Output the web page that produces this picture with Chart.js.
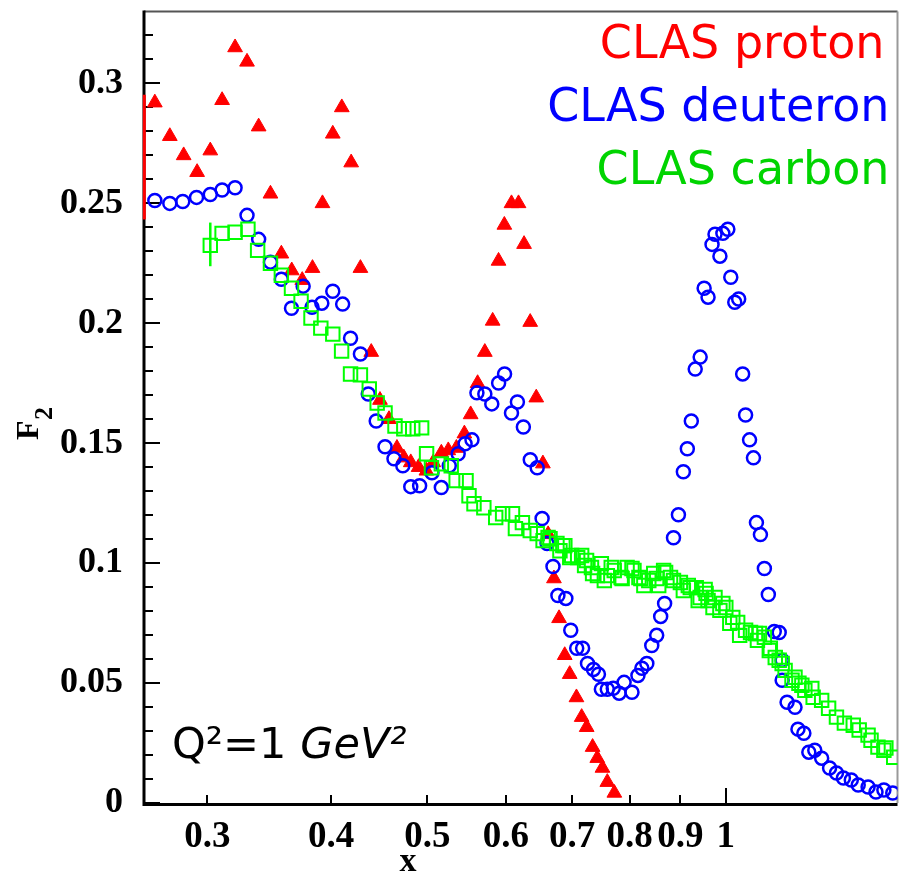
<!DOCTYPE html>
<html><head><meta charset="UTF-8">
<title>CLAS F2 at Q2 = 1 GeV2</title>
<script src="https://cdn.jsdelivr.net/npm/chart.js"></script>
<style>
  body{margin:0;background:#fff}
  canvas{display:block}
</style>
</head><body>
<canvas id="chart" width="909" height="892"></canvas>
<script>
// values
const protonX = [0.2656,0.2750,0.2840,0.2930,0.3021,0.3105,0.3200,0.3290,0.3380,0.3474,0.3563,0.3650,0.3740,0.3830,0.3920,0.4015,0.4100,0.4190,0.4281,0.4390,0.4480,0.4575,0.4660,0.4735,0.4812,0.4900,0.4990,0.5070,0.5166,0.5250,0.5350,0.5450,0.5530,0.5620,0.5715,0.5820,0.5900,0.5980,0.6080,0.6180,0.6260,0.6350,0.6440,0.6540,0.6620,0.6710,0.6790,0.6880,0.6960,0.7070,0.7156,0.7240,0.7340,0.7420,0.7510,0.7595,0.7720];
const protonF2 = [0.292,0.278,0.270,0.263,0.272,0.293,0.315,0.309,0.282,0.254,0.229,0.222,0.218,0.223,0.250,0.279,0.290,0.267,0.223,0.188,0.168,0.160,0.148,0.144,0.142,0.140,0.1385,0.142,0.146,0.147,0.148,0.154,0.162,0.175,0.188,0.201,0.226,0.241,0.250,0.250,0.233,0.2005,0.169,0.1415,0.112,0.0936,0.077,0.0616,0.0537,0.044,0.0358,0.0316,0.0233,0.0187,0.0146,0.0087,0.0042];

const deuteronX = [0.2656,0.2750,0.2834,0.2926,0.3021,0.3105,0.3200,0.3290,0.3380,0.3474,0.3563,0.3648,0.3748,0.3826,0.3914,0.4015,0.4108,0.4184,0.4281,0.4360,0.4441,0.4533,0.4628,0.4724,0.4812,0.4912,0.5055,0.5166,0.5262,0.5372,0.5459,0.5547,0.5611,0.5715,0.5808,0.5901,0.5983,0.6080,0.6164,0.6250,0.6351,0.6454,0.6528,0.6604,0.6695,0.6772,0.6898,0.6977,0.7074,0.7172,0.7254,0.7355,0.7440,0.7491,0.7595,0.7701,0.7807,0.7897,0.8043,0.8155,0.8230,0.8325,0.8421,0.8518,0.8597,0.8676,0.8857,0.8959,0.9062,0.9146,0.9231,0.9315,0.9423,0.9510,0.9597,0.9686,0.9753,0.9865,0.9933,1.0048,1.0117,1.0211,1.0304,1.0400,1.0471,1.0568,1.0664,1.0738,1.0838,1.0938,1.1039,1.1191,1.1321,1.1399,1.1399,1.1530,1.1744,1.1825,1.1988,1.2127,1.2296,1.2494,1.2726,1.2931,1.3141,1.3384,1.3601,1.3916,1.4174,1.4436,1.4737];
const deuteronF2 = [0.2512,0.2500,0.2508,0.2525,0.2537,0.2556,0.2565,0.2450,0.2350,0.2255,0.2184,0.2063,0.2155,0.2067,0.2084,0.2134,0.2080,0.1938,0.1872,0.1705,0.1593,0.1485,0.1435,0.1406,0.1319,0.1323,0.1377,0.1315,0.1406,0.1456,0.1498,0.1514,0.1710,0.1705,0.1664,0.1751,0.1789,0.1626,0.1672,0.1568,0.1431,0.1398,0.1186,0.1082,0.0986,0.0865,0.0853,0.0720,0.0645,0.0645,0.0582,0.0557,0.0537,0.0474,0.0474,0.0478,0.0458,0.0503,0.0462,0.0532,0.0562,0.0582,0.0657,0.0699,0.0778,0.0832,0.1106,0.1202,0.1381,0.1477,0.1593,0.1809,0.1859,0.2146,0.2109,0.2329,0.2371,0.2280,0.2375,0.2392,0.2192,0.2088,0.2101,0.1789,0.1618,0.1514,0.1439,0.1169,0.1119,0.0978,0.0869,0.0715,0.0711,0.0595,0.0512,0.0420,0.0399,0.0308,0.0291,0.0212,0.0220,0.0187,0.0146,0.0125,0.0104,0.0096,0.0075,0.0067,0.0046,0.0054,0.0042];

const carbonX = [0.3021,0.3105,0.3200,0.3297,0.3372,0.3474,0.3563,0.3648,0.3730,0.3817,0.3905,0.4015,0.4098,0.4184,0.4281,0.4370,0.4451,0.4533,0.4639,0.4735,0.4834,0.4935,0.4992,0.5049,0.5166,0.5286,0.5347,0.5471,0.5509,0.5573,0.5702,0.5861,0.5956,0.6094,0.6136,0.6236,0.6351,0.6454,0.6543,0.6619,0.6649,0.6757,0.6804,0.6850,0.6882,0.6961,0.6993,0.7090,0.7156,0.7205,0.7238,0.7321,0.7340,0.7423,0.7491,0.7543,0.7595,0.7665,0.7718,0.7843,0.7861,0.7952,0.8043,0.8080,0.8174,0.8211,0.8268,0.8363,0.8460,0.8518,0.8558,0.8656,0.8696,0.8796,0.8857,0.9000,0.9062,0.9167,0.9209,0.9337,0.9380,0.9423,0.9532,0.9553,0.9597,0.9708,0.9753,0.9865,0.9933,1.0001,1.0094,1.0164,1.0280,1.0328,1.0471,1.0592,1.0714,1.0763,1.0813,1.0938,1.1064,1.1090,1.1218,1.1321,1.1399,1.1477,1.1663,1.1744,1.1852,1.1933,1.2016,1.2211,1.2250,1.2494,1.2697,1.2931,1.3171,1.3445,1.3632,1.3916,1.4012,1.4239,1.4436,1.4503,1.4770];
const carbonF2 = [0.2325,0.2375,0.2380,0.2392,0.2304,0.2250,0.2200,0.2146,0.2092,0.2022,0.1980,0.1955,0.1884,0.1789,0.1785,0.1726,0.1668,0.1626,0.1572,0.1560,0.1560,0.1564,0.1456,0.1398,0.1414,0.1406,0.1344,0.1344,0.1281,0.1248,0.1231,0.1190,0.1206,0.1206,0.1144,0.1169,0.1136,0.1123,0.1094,0.1107,0.1102,0.1082,0.1052,0.1073,0.1073,0.1023,0.1032,0.1023,0.1032,0.0990,0.1011,0.0982,0.0957,0.0948,0.0998,0.0928,0.0948,0.0982,0.0969,0.0940,0.0936,0.0982,0.0978,0.0969,0.0940,0.0936,0.0907,0.0928,0.0957,0.0936,0.0907,0.0969,0.0961,0.0940,0.0928,0.0919,0.0886,0.0907,0.0898,0.0898,0.0844,0.0857,0.0890,0.0874,0.0844,0.0815,0.0857,0.0803,0.0832,0.0815,0.0749,0.0774,0.0753,0.0699,0.0720,0.0711,0.0707,0.0678,0.0707,0.0691,0.0636,0.0645,0.0607,0.0595,0.0582,0.0553,0.0512,0.0524,0.0499,0.0491,0.0470,0.0478,0.0441,0.0428,0.0395,0.0358,0.0333,0.0324,0.0304,0.0283,0.0262,0.0233,0.0220,0.0229,0.0191];

// the two visible error bars
const errSeries = [0, 2];
const errX = [0.2592, 0.3021];
const errLo = [0.2433, 0.2238];
const errHi = [0.2953, 0.2420];

const seriesNames = ["CLAS proton", "CLAS deuteron", "CLAS carbon"];
const seriesColors = ["#ff0000", "#0000ff", "#00ff00"];
const labelColors = ["#ff0000", "#0000ff", "#00d400"];

const xTicks = [0.3, 0.4, 0.5, 0.6, 0.7, 0.8, 0.9, 1];
const xTickLabels = ["0.3", "0.4", "0.5", "0.6", "0.7", "0.8", "0.9", "1"];
const yTicks = [0, 0.05, 0.1, 0.15, 0.2, 0.25, 0.3];
const yTickLabels = ["0", "0.05", "0.1", "0.15", "0.2", "0.25", "0.3"];
const yMinorTicks = [0.01,0.02,0.03,0.04,0.06,0.07,0.08,0.09,0.11,0.12,0.13,0.14,0.16,0.17,0.18,0.19,0.21,0.22,0.23,0.24,0.26,0.27,0.28,0.29,0.31,0.32];

const pts = (xs, ys) => xs.map((x, i) => ({x: x, y: ys[i]}));
const serif = "'Liberation Serif', 'Times New Roman', serif";
const sans = "'DejaVu Sans', sans-serif";

// frame, axes and inward ticks
const frame = {
  id: "frame",
  beforeDatasetsDraw(chart) {
    const {ctx, chartArea: a, scales: {x, y}} = chart;
    ctx.save();
    ctx.lineCap = "butt";
    ctx.strokeStyle = "#555"; ctx.lineWidth = 2;
    ctx.beginPath(); ctx.moveTo(a.left, a.top); ctx.lineTo(a.right, a.top); ctx.stroke();
    ctx.strokeStyle = "#999";
    ctx.beginPath(); ctx.moveTo(a.right, a.top); ctx.lineTo(a.right, a.bottom); ctx.stroke();
    ctx.strokeStyle = "#000"; ctx.lineWidth = 3;
    ctx.beginPath(); ctx.moveTo(a.left, a.top - 1); ctx.lineTo(a.left, a.bottom + 1.5); ctx.lineTo(a.right, a.bottom + 1.5); ctx.stroke();
    ctx.lineWidth = 2;
    yTicks.forEach(v => {
      const py = Math.round(y.getPixelForValue(v));
      ctx.beginPath(); ctx.moveTo(a.left, py); ctx.lineTo(a.left + 16, py); ctx.stroke();
    });
    yMinorTicks.forEach(v => {
      const py = Math.round(y.getPixelForValue(v));
      ctx.beginPath(); ctx.moveTo(a.left, py); ctx.lineTo(a.left + 9, py); ctx.stroke();
    });
    xTicks.forEach(v => {
      const px = Math.round(x.getPixelForValue(v));
      ctx.beginPath(); ctx.moveTo(px, a.bottom); ctx.lineTo(px, a.bottom - (v === 1 ? 15 : 8)); ctx.stroke();
    });
    ctx.restore();
  },
  afterDatasetsDraw(chart) {
    const {ctx, scales: {x, y}} = chart;
    ctx.save();
    errX.forEach((v, i) => {
      const px = x.getPixelForValue(v);
      ctx.strokeStyle = seriesColors[errSeries[i]];
      ctx.lineWidth = errSeries[i] === 0 ? 3 : 2.5;
      ctx.beginPath(); ctx.moveTo(px, y.getPixelForValue(errLo[i])); ctx.lineTo(px, y.getPixelForValue(errHi[i])); ctx.stroke();
    });
    ctx.restore();
  },
  afterDraw(chart) {
    const {ctx, chartArea: a} = chart;
    ctx.save();
    // legend as coloured text, top right
    ctx.font = "46px " + sans;
    ctx.textAlign = "right"; ctx.textBaseline = "alphabetic";
    seriesNames.forEach((name, i) => {
      ctx.fillStyle = labelColors[i];
      ctx.fillText(name, a.right - (i === 0 ? 13 : 8), a.top + 46 + i * 63);
    });
    // Q2 note
    ctx.fillStyle = "#000"; ctx.textAlign = "left";
    ctx.font = "43px " + sans;
    let tx = a.left + 28;
    const base = 758;
    ctx.fillText("Q²=1 ", tx, base);
    tx += ctx.measureText("Q²=1 ").width;
    ctx.font = "italic 43px " + sans;
    ctx.fillText("GeV²", tx, base);
    // axis titles
    ctx.font = "bold 34px " + serif;
    ctx.textAlign = "center"; ctx.textBaseline = "middle";
    ctx.fillText("x", 408, 862);
    ctx.translate(38, 428);
    ctx.rotate(-Math.PI / 2);
    ctx.textAlign = "left"; ctx.textBaseline = "alphabetic";
    ctx.font = "bold 32px " + serif;
    ctx.fillText("F", -12, 0);
    ctx.font = "bold 26px " + serif;
    ctx.fillText("2", 8, 14);
    ctx.restore();
  }
};

new Chart(document.getElementById("chart"), {
  type: "scatter",
  data: {
    datasets: [
      {label: seriesNames[0], data: pts(protonX, protonF2), order: 3,
       pointStyle: "triangle", pointRadius: 8.5, borderWidth: 1,
       borderColor: seriesColors[0], backgroundColor: seriesColors[0]},
      {label: seriesNames[1], data: pts(deuteronX, deuteronF2), order: 2,
       pointStyle: "circle", pointRadius: 6.5, borderWidth: 2.5,
       borderColor: seriesColors[1], backgroundColor: "rgba(0,0,0,0)"},
      {label: seriesNames[2], data: pts(carbonX, carbonF2), order: 1,
       pointStyle: "rect", pointRadius: 9.5, borderWidth: 2,
       borderColor: seriesColors[2], backgroundColor: "rgba(0,0,0,0)"}
    ]
  },
  options: {
    responsive: false,
    animation: false,
    devicePixelRatio: 1,
    events: [],
    layout: {padding: {top: 9, right: 2, left: 0, bottom: 0}},
    plugins: {legend: {display: false}, tooltip: {enabled: false}},
    scales: {
      x: {
        type: "logarithmic", min: 0.259, max: 1.49,
        grid: {display: false, drawTicks: false}, border: {display: false},
        afterBuildTicks: s => { s.ticks = xTicks.map(v => ({value: v})); },
        afterFit: s => { s.height = 89; s.paddingLeft = 0; s.paddingRight = 0; },
        ticks: {
          autoSkip: false, maxRotation: 0, minRotation: 0, padding: 12, color: "#000",
          font: {family: serif, weight: "bold", size: 37},
          callback: (v, i) => xTickLabels[i]
        }
      },
      y: {
        min: 0, max: 0.33,
        grid: {display: false, drawTicks: false}, border: {display: false},
        afterBuildTicks: s => { s.ticks = yTicks.map(v => ({value: v})); },
        afterFit: s => { s.width = 144; s.paddingTop = 0; s.paddingBottom = 0; },
        ticks: {
          padding: 21, color: "#000",
          font: {family: serif, weight: "bold", size: 36},
          callback: (v, i) => yTickLabels[i]
        }
      }
    }
  },
  plugins: [frame]
});
</script>
</body></html>
